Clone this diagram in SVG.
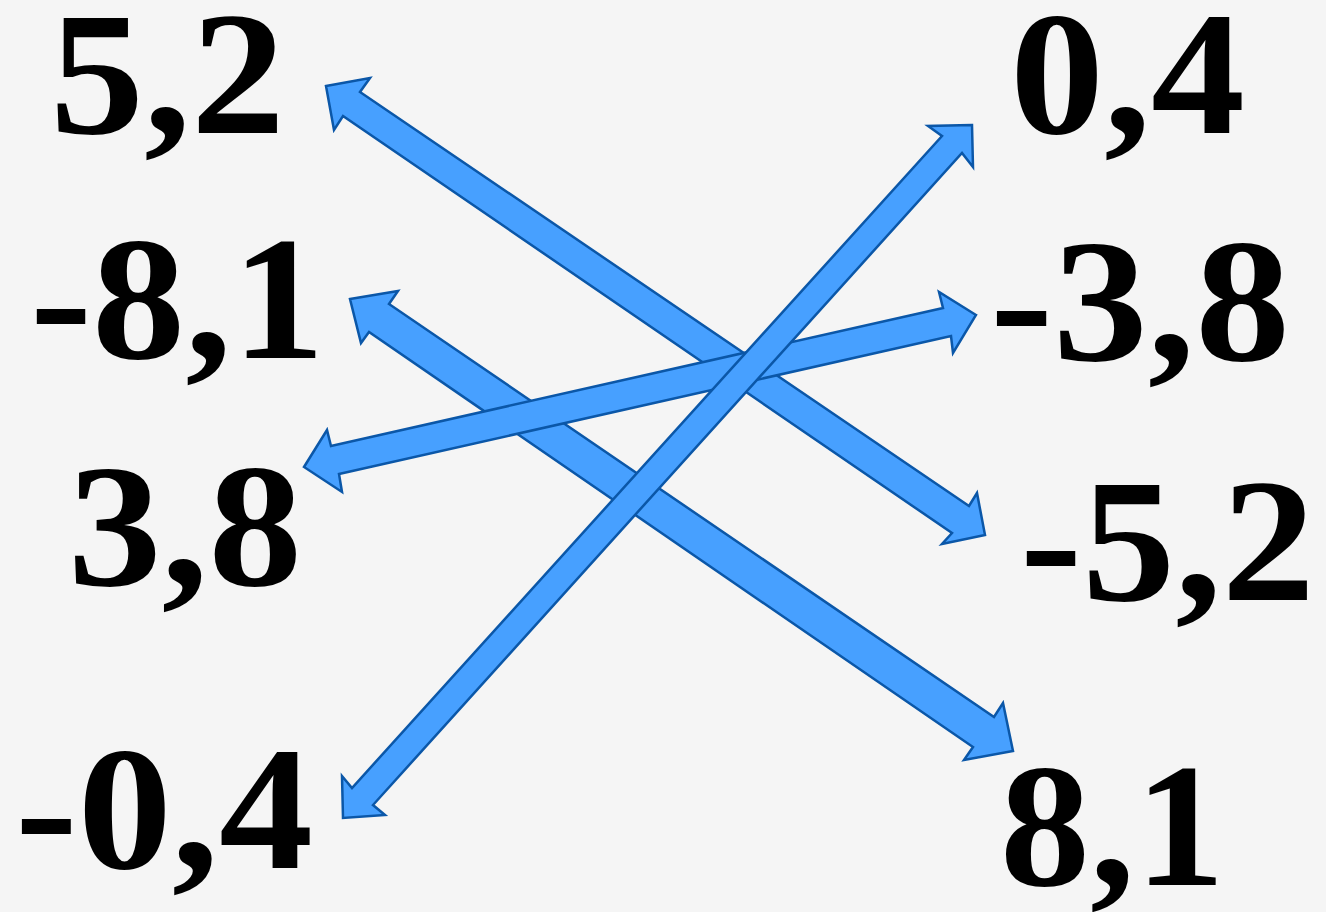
<svg xmlns="http://www.w3.org/2000/svg" width="1326" height="912" viewBox="0 0 1326 912">
<style>
.lbl{font-family:"Liberation Serif","Times New Roman",serif;font-weight:bold;font-size:176px;fill:#000}
.arr{fill:#47a0ff;stroke:#0b57a8;stroke-width:2.5;stroke-linejoin:miter}
</style>
<rect width="1326" height="912" fill="#f5f5f5"/>
<g id="connectors">
<polygon id="a1" class="arr" points="326,86 370,78 360,92 969,506 977,493 985,535 942,544 952,533 343,116 334,130"/>
<polygon id="a2" class="arr" points="350,299 398,291 389,304 994,717 1003,703 1013,751 964,760 973,747 369,332 361,343"/>
<polygon id="a3" class="arr" points="976,315 939,292 943,308 331,446 327,430 304,467 342,492 339,474 951,336 953,353"/>
<polygon id="a4" class="arr" points="972,125 928,126 942,136 352,788 342,776 343,818 385,815 373,805 962,153 973,167"/>
</g>
<g id="n1"><text class="lbl" x="50" y="133" textLength="235" lengthAdjust="spacingAndGlyphs">5,2</text></g>
<g id="n2"><text class="lbl" x="30" y="358" textLength="295" lengthAdjust="spacingAndGlyphs">-8,1</text></g>
<g id="n3"><text class="lbl" x="68" y="585" textLength="234" lengthAdjust="spacingAndGlyphs">3,8</text></g>
<g id="n4"><text class="lbl" x="15" y="868" textLength="298" lengthAdjust="spacingAndGlyphs">-0,4</text></g>
<g id="n5"><text class="lbl" x="1010" y="133" textLength="235" lengthAdjust="spacingAndGlyphs">0,4</text></g>
<g id="n6"><text class="lbl" x="990" y="360" textLength="300" lengthAdjust="spacingAndGlyphs">-3,8</text></g>
<g id="n7"><text class="lbl" x="1020" y="600" textLength="295" lengthAdjust="spacingAndGlyphs">-5,2</text></g>
<g id="n8"><text class="lbl" x="1000" y="885" textLength="225" lengthAdjust="spacingAndGlyphs">8,1</text></g>
</svg>
